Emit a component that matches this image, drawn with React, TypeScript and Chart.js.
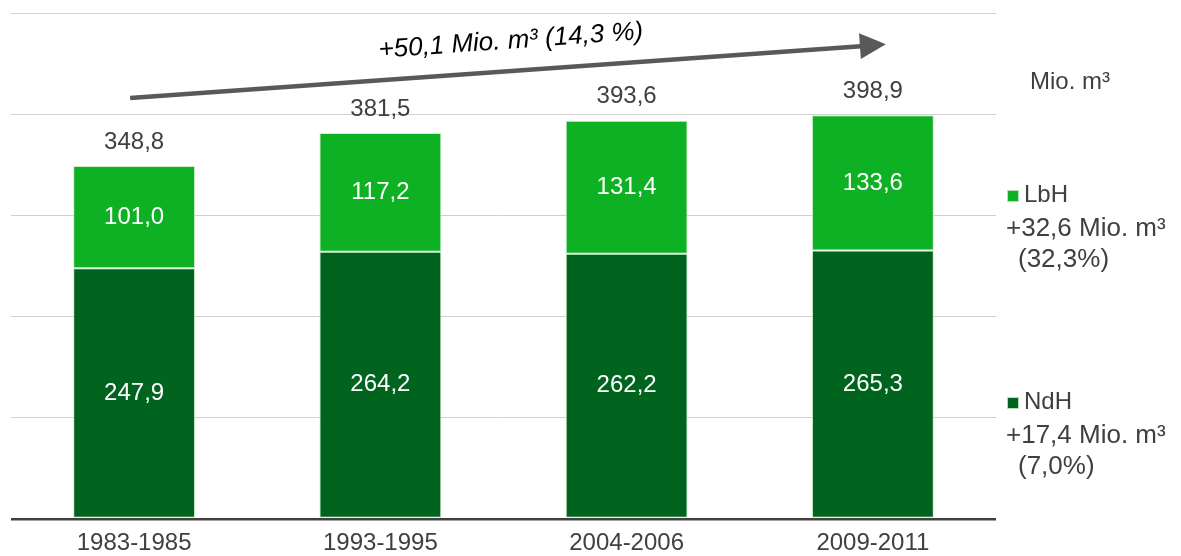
import React, { useEffect, useRef } from 'react';
import { Chart, registerables } from 'chart.js';

Chart.register(...registerables);

const categories = ['1983-1985', '1993-1995', '2004-2006', '2009-2011'];
const ndhValues = [247.9, 264.2, 262.2, 265.3];
const lbhValues = [101.0, 117.2, 131.4, 133.6];
const totalValues = [348.8, 381.5, 393.6, 398.9];
const seriesNames = ['NdH', 'LbH'];
const seriesChanges = ['+17,4 Mio. m³', '+32,6 Mio. m³'];
const seriesChangePct = ['(7,0%)', '(32,3%)'];
const trendLabel = '+50,1 Mio. m³ (14,3 %)';
const unitLabel = 'Mio. m³';
const yMin = 0;
const yMax = 500;
const yStep = 100;

const FONT = "'Liberation Sans', Arial, Helvetica, sans-serif";
const DARK_GREEN = '#00641f';
const LIGHT_GREEN = '#0db123';
const TEXT_GRAY = '#404040';

const fmt = (v: number) => v.toFixed(1).replace('.', ',');

const overlayPlugin = {
  id: 'overlay',
  afterDatasetsDraw(chart: any) {
    const ctx: CanvasRenderingContext2D = chart.ctx;
    const area = chart.chartArea;
    ctx.save();
    ctx.textAlign = 'center';
    ctx.textBaseline = 'middle';
    ctx.font = `24px ${FONT}`;

    // segment labels
    chart.data.datasets.forEach((ds: any, di: number) => {
      const meta = chart.getDatasetMeta(di);
      meta.data.forEach((el: any, i: number) => {
        const p = el.getProps(['x', 'y', 'base'], true);
        ctx.fillStyle = '#ffffff';
        ctx.fillText(fmt(ds.data[i]), p.x, (p.y + p.base) / 2);
      });
    });

    // totals
    const topMeta = chart.getDatasetMeta(chart.data.datasets.length - 1);
    ctx.fillStyle = TEXT_GRAY;
    topMeta.data.forEach((el: any, i: number) => {
      ctx.fillText(fmt(totalValues[i]), el.x, el.y - 24);
    });

    // trend arrow
    const first = topMeta.data[0];
    const last = topMeta.data[topMeta.data.length - 1];
    const x0 = first.x - 4;
    const y0 = first.y - 68;
    const x1 = last.x + 13;
    const y1 = last.y - 71;
    const ang = Math.atan2(y1 - y0, x1 - x0);
    const headLen = 26;
    const headHalf = 13;
    const bx = x1 - headLen * Math.cos(ang);
    const by = y1 - headLen * Math.sin(ang);
    ctx.strokeStyle = '#595959';
    ctx.lineWidth = 4.5;
    ctx.beginPath();
    ctx.moveTo(x0, y0);
    ctx.lineTo(bx + 1, by);
    ctx.stroke();
    ctx.fillStyle = '#595959';
    ctx.beginPath();
    ctx.moveTo(x1, y1);
    ctx.lineTo(bx + headHalf * Math.sin(ang), by - headHalf * Math.cos(ang));
    ctx.lineTo(bx - headHalf * Math.sin(ang), by + headHalf * Math.cos(ang));
    ctx.closePath();
    ctx.fill();

    const mx = (x0 + x1) / 2 + 5;
    const my = (y0 + y1) / 2;
    const off = 30;
    const tx = mx + off * Math.sin(ang);
    const ty = my - off * Math.cos(ang);
    ctx.save();
    ctx.translate(tx, ty);
    ctx.rotate(ang);
    ctx.font = `italic 26px ${FONT}`;
    ctx.fillStyle = '#000000';
    ctx.fillText(trendLabel, 0, 0);
    ctx.restore();

    // right side annotations
    const rx = area.right;
    const top = area.top;
    ctx.textAlign = 'left';
    ctx.fillStyle = TEXT_GRAY;
    ctx.font = `24px ${FONT}`;
    ctx.fillText(unitLabel, rx + 34, top + 69);

    const colors = [DARK_GREEN, LIGHT_GREEN];
    const groupY = [top + 389, top + 182];
    for (let s = 0; s < seriesNames.length; s++) {
      const gy = groupY[s];
      ctx.fillStyle = colors[s];
      ctx.fillRect(rx + 11, gy - 5, 12, 12);
      ctx.strokeStyle = 'rgba(200,235,200,0.9)';
      ctx.lineWidth = 1;
      ctx.strokeRect(rx + 11.5, gy - 4.5, 11, 11);
      ctx.fillStyle = TEXT_GRAY;
      ctx.font = `24px ${FONT}`;
      ctx.fillText(seriesNames[s], rx + 28, gy);
      ctx.font = `26px ${FONT}`;
      ctx.fillText(seriesChanges[s], rx + 10, gy + 34);
      ctx.fillText(seriesChangePct[s], rx + 22, gy + 65);
    }
    ctx.restore();
  },
};

export default function App() {
  const canvasRef = useRef<HTMLCanvasElement | null>(null);

  useEffect(() => {
    if (!canvasRef.current) return;
    const chart = new Chart(canvasRef.current, {
      type: 'bar',
      data: {
        labels: categories,
        datasets: [
          {
            label: seriesNames[0],
            data: ndhValues,
            backgroundColor: DARK_GREEN,
            borderColor: 'rgba(200,235,200,0.9)',
            borderWidth: 1,
            borderSkipped: false,
            barPercentage: 0.495,
            categoryPercentage: 1,
          },
          {
            label: seriesNames[1],
            data: lbhValues,
            backgroundColor: LIGHT_GREEN,
            borderColor: 'rgba(200,235,200,0.9)',
            borderWidth: 1,
            borderSkipped: false,
            barPercentage: 0.495,
            categoryPercentage: 1,
          },
        ],
      },
      options: {
        animation: false,
        responsive: true,
        maintainAspectRatio: false,
        layout: { padding: { left: 11, right: 185, top: 13, bottom: 0 } },
        plugins: {
          legend: { display: false },
          tooltip: { enabled: false },
          title: { display: false },
        },
        scales: {
          x: {
            stacked: true,
            grid: { display: false, drawTicks: false },
            border: { display: false },
            ticks: {
              color: TEXT_GRAY,
              font: { family: FONT, size: 24, lineHeight: 1 },
              padding: 12.5,
              maxRotation: 0,
              autoSkip: false,
            },
            afterFit: (scale: any) => {
              scale.height = 37;
            },
          },
          y: {
            stacked: true,
            min: yMin,
            max: yMax,
            ticks: { display: false, stepSize: yStep },
            grid: {
              drawTicks: false,
              color: (c: any) => (c.tick && c.tick.value === 0 ? TEXT_GRAY : '#d0d0d0'),
              lineWidth: (c: any) => (c.tick && c.tick.value === 0 ? 2.5 : 1),
            },
            border: { display: false },
            afterFit: (scale: any) => {
              scale.width = 0;
            },
          },
        },
      },
      plugins: [overlayPlugin],
    });
    return () => chart.destroy();
  }, []);

  return (
    <div style={{ position: 'absolute', left: 0, top: 0, width: 1181, height: 556, background: '#ffffff' }}>
      <canvas ref={canvasRef} />
    </div>
  );
}
